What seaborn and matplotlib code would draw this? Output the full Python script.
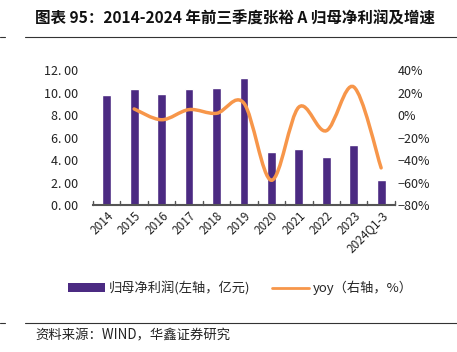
import matplotlib
matplotlib.use("Agg")
import matplotlib.pyplot as plt
import seaborn as sns
import pandas as pd
import numpy as np
from matplotlib.path import Path
from matplotlib.patches import PathPatch
from matplotlib.lines import Line2D
from matplotlib.patches import Patch

# data
years = ["2014", "2015", "2016", "2017", "2018", "2019", "2020",
         "2021", "2022", "2023", "2024Q1-3"]
profit = [9.78, 10.31, 9.84, 10.31, 10.40, 11.26, 4.71, 4.98, 4.30, 5.33, 2.25]
yoy = [np.nan, 5.4, -4.2, 4.8, 1.5, 10.5, -58.0, 7.0, -14.0, 25.0, -47.0]

BAR = "#4B2A82"
LINE = "#F7964A"

sns.set_theme(style="white")
plt.rcParams["font.family"] = ["Noto Sans CJK SC", "DejaVu Sans"]

fig = plt.figure(figsize=(4.57, 3.52), dpi=100)
ax = fig.add_axes([0.2035, 0.4176, 0.6605, 0.3835])

df = pd.DataFrame({"year": years, "profit": profit, "yoy": yoy})
sns.barplot(data=df, x="year", y="profit", color=BAR, width=0.32,
            saturation=1, ax=ax)

ax.set_xlim(-0.5, len(years) - 0.5)
ax.set_ylim(0, 12)
ax.set_yticks(np.arange(0, 13, 2))
ax.set_yticklabels([f"{v:.2f}".replace(".", ". ") for v in np.arange(0, 13, 2)],
                   fontsize=9)
ax.set_xlabel("")
ax.set_ylabel("")
for s in ["top", "right", "left"]:
    ax.spines[s].set_visible(False)
ax.spines["bottom"].set_color("#555555")
ax.spines["bottom"].set_linewidth(1.5)
ax.tick_params(axis="y", length=0, pad=11, colors="#222222")
ax.set_xticks(range(len(years)))
ax.set_xticklabels(years, rotation=45, ha="right", rotation_mode="anchor",
                   fontsize=8.5, color="#222222")
ax.tick_params(axis="x", length=0, pad=3)
# boundary ticks
for b in np.arange(-0.5, len(years), 1.0):
    ax.plot([b, b], [0, 0.35], color="#555555", lw=1, clip_on=False)

ax2 = ax.twinx()
ax2.set_ylim(-80, 40)
ax2.set_yticks(np.arange(-80, 41, 20))
ax2.set_yticklabels([f"{v}%".replace("-", "−") for v in np.arange(-80, 41, 20)],
                    fontsize=9)
for s in ["top", "right", "left", "bottom"]:
    ax2.spines[s].set_visible(False)
ax2.tick_params(axis="y", length=0, pad=2, colors="#222222")

# smooth line through the yoy points (Catmull-Rom as bezier)
xs = [i for i, v in enumerate(yoy) if not np.isnan(v)]
ys = [v for v in yoy if not np.isnan(v)]
verts = [(xs[0], ys[0])]
codes = [Path.MOVETO]
n = len(xs)
for i in range(n - 1):
    p0 = (xs[max(i - 1, 0)], ys[max(i - 1, 0)])
    p1 = (xs[i], ys[i])
    p2 = (xs[i + 1], ys[i + 1])
    p3 = (xs[min(i + 2, n - 1)], ys[min(i + 2, n - 1)])
    c1 = (p1[0] + (p2[0] - p0[0]) / 6, p1[1] + (p2[1] - p0[1]) / 6)
    c2 = (p2[0] - (p3[0] - p1[0]) / 6, p2[1] - (p3[1] - p1[1]) / 6)
    verts += [c1, c2, p2]
    codes += [Path.CURVE4] * 3
ax2.add_patch(PathPatch(Path(verts, codes), fill=False, edgecolor=LINE,
                        lw=2.5, capstyle="round"))

# legend
handles = [Patch(facecolor=BAR, edgecolor="none"),
           Line2D([0], [0], color=LINE, lw=2)]
fig.legend(handles, ["归母净利润(左轴，亿元)", "yoy（右轴，%）"],
           loc="center", bbox_to_anchor=(0.526, 0.182), ncol=2, frameon=False,
           fontsize=9.5, handlelength=2.8, handleheight=0.6,
           columnspacing=1.6, handletextpad=0.3)

# title and source
fig.text(0.077, 0.947, "图表 95：2014-2024 年前三季度张裕 A 归母净利润及增速",
         fontsize=11.2, fontweight="bold", va="center", ha="left", color="#111111")
fig.add_artist(Line2D([0.055, 1.0], [0.895, 0.895], color="#333333", lw=0.8))
fig.add_artist(Line2D([0.0, 0.012], [0.895, 0.895], color="#333333", lw=0.8))
fig.add_artist(Line2D([0.055, 1.0], [0.082, 0.082], color="#333333", lw=0.8))
fig.add_artist(Line2D([0.0, 0.012], [0.082, 0.082], color="#333333", lw=0.8))
fig.text(0.077, 0.048, "资料来源：WIND，华鑫证券研究", fontsize=9.6,
         va="center", ha="left", color="#222222")

fig.savefig("out.png", dpi=100)
